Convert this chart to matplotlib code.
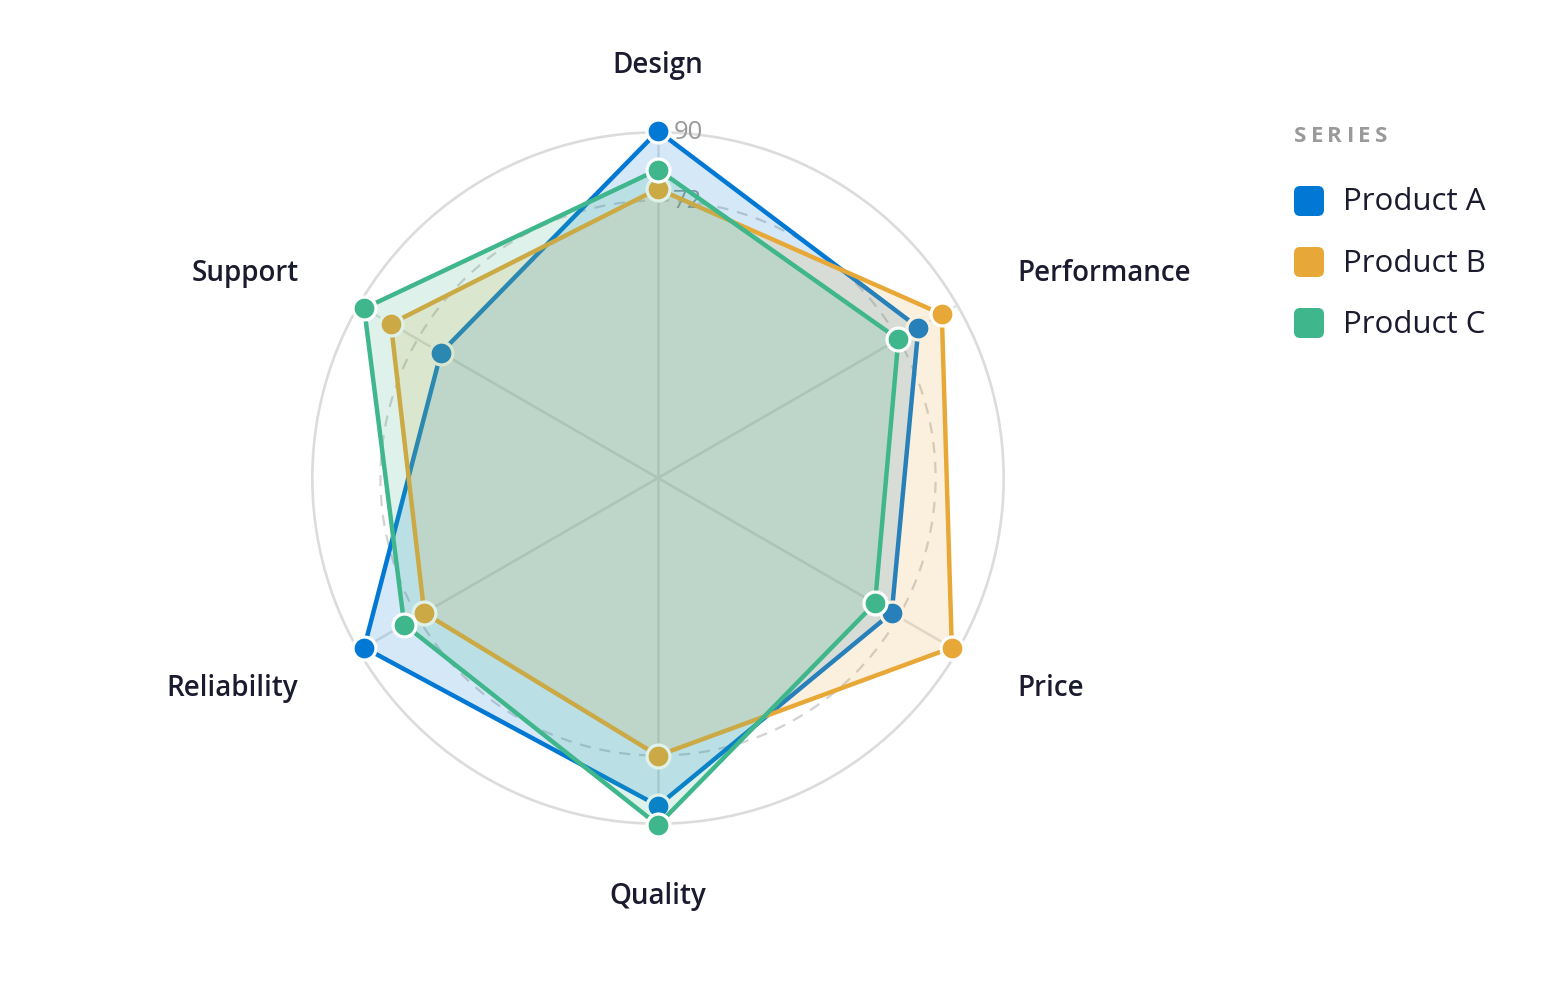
import numpy as np
import matplotlib
matplotlib.use("Agg")
import matplotlib.pyplot as plt
from matplotlib.patches import FancyBboxPatch

categories = ["Design", "Performance", "Price", "Quality", "Reliability", "Support"]
series_names = ["Product A", "Product B", "Product C"]
product_a = [90, 78, 70, 85, 88, 65]
product_b = [75, 85, 88, 72, 70, 80]
product_c = [80, 72, 65, 90, 76, 88]
ring_ticks = [72, 90]
colors = ["#0078d4", "#e8a838", "#3fb68b"]

plt.rcParams['font.family'] = ['Open Sans', 'DejaVu Sans']

W, H = 1554, 988
fig = plt.figure(figsize=(W / 100, H / 100), dpi=100)
cx, cy, R = 658, 478, 347
ax = fig.add_axes([(cx - R) / W, (H - cy - R) / H, 2 * R / W, 2 * R / H], projection='polar')
ax.set_theta_offset(np.pi / 2)
ax.set_theta_direction(-1)
ax.set_ylim(0, 90)
ax.set_xticks([])
ax.set_yticks([])
ax.grid(False)
ax.spines['polar'].set_visible(False)
ax.patch.set_alpha(0)

n = len(categories)
angles = np.arange(n) * 2 * np.pi / n
tt = np.linspace(0, 2 * np.pi, 400)

# grid rings
ax.plot(tt, np.full_like(tt, ring_ticks[1]), color="#dcdcdc", lw=3.8, zorder=1)
ax.plot(tt, np.full_like(tt, ring_ticks[0]), color="#d2d2d2", lw=1.6, ls=(0, (5, 4)), zorder=1)
for a in angles:
    ax.plot([a, a], [0, ring_ticks[1]], color="#e0e0e0", lw=1.8, zorder=1)

# ring labels
for r in ring_ticks:
    ax.annotate(str(r), xy=(0, r), xytext=(11, -1), textcoords='offset points',
                ha='left', va='center', fontsize=18.5, color="#9a9a9a", zorder=1)

# category labels
for a, lab in zip(angles, categories):
    deg = np.degrees(a) % 360
    if deg < 1 or abs(deg - 180) < 1:
        ha = 'center'
    elif deg < 180:
        ha = 'left'
    else:
        ha = 'right'
    ax.annotate(lab, xy=(a, 107.7), xytext=(0, -2.2), textcoords='offset points',
                ha=ha, va='center', fontsize=20, fontweight='semibold', color="#1b1b2f",
                annotation_clip=False)

all_vals = [product_a, product_b, product_c]
z = 2
for vals, col in zip(all_vals, colors):
    v = np.array(vals + vals[:1], dtype=float)
    t = np.concatenate([angles, angles[:1]])
    ax.fill(t, v, color=col, alpha=0.17, lw=0, zorder=z)
    ax.plot(t, v, color=col, lw=3.2, zorder=z + 0.1, solid_joinstyle='miter')
    ax.plot(angles, vals, 'o', ms=16.5, mfc=col, mec='white', mew=2.3, zorder=z + 0.2, clip_on=False)
    z += 1

# legend
fig.canvas.draw()
renderer = fig.canvas.get_renderer()
x = 1294
for ch in "SERIES":
    t = fig.text(x / W, 1 - 136 / H, ch, fontsize=16, fontweight='bold', color="#9a9a9a",
                 ha='left', va='center')
    x += t.get_window_extent(renderer).width + 4.3
for i, (name, col) in enumerate(zip(series_names, colors)):
    yc = 201 + i * 61
    fig.patches.append(FancyBboxPatch(((1294) / W, 1 - (yc + 15) / H), 30 / W, 30 / H,
                                      boxstyle="round,pad=0,rounding_size=0.004",
                                      transform=fig.transFigure, fc=col, ec='none',
                                      mutation_aspect=W / H))
    fig.text(1343 / W, 1 - (yc + 1.5) / H, name, fontsize=22.5, color="#1b1b2f", ha='left', va='center')

fig.savefig("out.png", dpi=100)
